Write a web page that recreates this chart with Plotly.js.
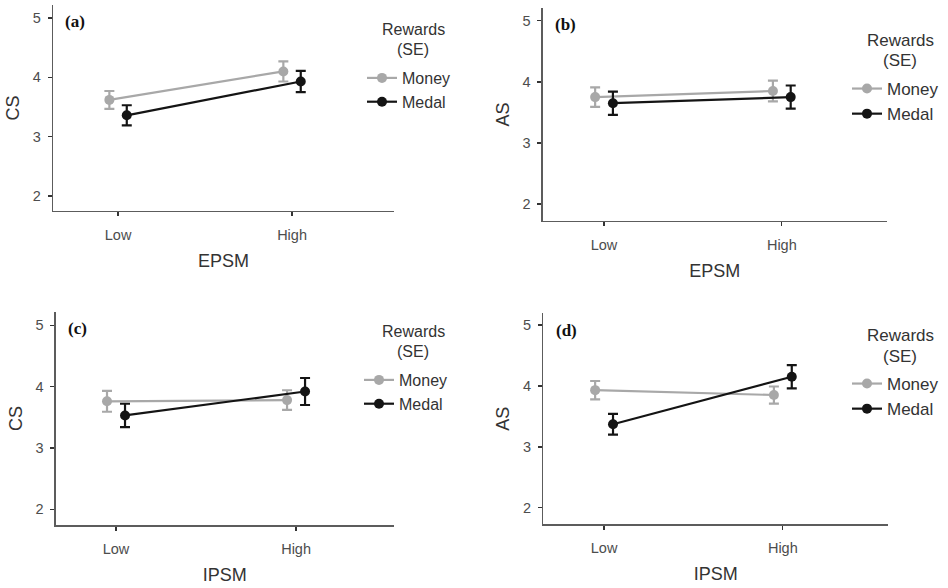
<!DOCTYPE html>
<html>
<head>
<meta charset="utf-8">
<script src="https://cdn.plot.ly/plotly-3.0.1.min.js"></script>
<style>html,body{margin:0;padding:0;background:#fff;}#chart{width:948px;height:588px;}</style>
</head>
<body>
<div id="chart"></div>
<script>
// ---- data ----
const categories = ['Low', 'High'];
const seriesNames = ['Money', 'Medal'];
const panelLabels = ['(a)', '(b)', '(c)', '(d)'];
const xTitles = ['EPSM', 'EPSM', 'IPSM', 'IPSM'];
const yTitles = ['CS', 'AS', 'CS', 'AS'];
const yTicks = [2, 3, 4, 5];

const moneyMeanA = [3.62, 4.10];
const moneySeA   = [0.15, 0.17];
const medalMeanA = [3.36, 3.93];
const medalSeA   = [0.17, 0.18];

const moneyMeanB = [3.75, 3.85];
const moneySeB   = [0.16, 0.17];
const medalMeanB = [3.65, 3.75];
const medalSeB   = [0.19, 0.19];

const moneyMeanC = [3.76, 3.78];
const moneySeC   = [0.17, 0.16];
const medalMeanC = [3.53, 3.92];
const medalSeC   = [0.19, 0.22];

const moneyMeanD = [3.93, 3.85];
const moneySeD   = [0.15, 0.14];
const medalMeanD = [3.37, 4.15];
const medalSeD   = [0.17, 0.19];

// ---- styling / layout ----
const colors = {Money: '#a8a8a8', Medal: '#141414'};
const dodge = 0.05;
const panels = [
  {money: moneyMeanA, moneySe: moneySeA, medal: medalMeanA, medalSe: medalSeA,
   xd: [53/948, 394/948], yd: [1-211/588, 1-5/588], xr: [0.626, 2.586], yr: [1.747, 5.22]},
  {money: moneyMeanB, moneySe: moneySeB, medal: medalMeanB, medalSe: medalSeB,
   xd: [542.7/948, 886.7/948], yd: [1-221/588, 1-8/588], xr: [0.655, 2.59], yr: [1.72, 5.21]},
  {money: moneyMeanC, moneySe: moneySeC, medal: medalMeanC, medalSe: medalSeC,
   xd: [55.7/948, 394/948], yd: [1-525.3/588, 1-311.7/588], xr: [0.665, 2.544], yr: [1.74, 5.22]},
  {money: moneyMeanD, moneySe: moneySeD, medal: medalMeanD, medalSe: medalSeD,
   xd: [543.3/948, 888.3/948], yd: [1-524.3/588, 1-313.3/588], xr: [0.66, 2.59], yr: [1.73, 5.19]}
];
const legendPos = [
  {x: 362, y: 61, fs: 16, tx: 413, t1: 30, t2: 49},
  {x: 847, y: 71, fs: 17, tx: 900, t1: 40.7, t2: 61},
  {x: 359, y: 363, fs: 16, tx: 413, t1: 331.7, t2: 351.7},
  {x: 847, y: 366, fs: 17, tx: 900, t1: 335.7, t2: 356.7}
];

const font = 'Liberation Sans, Arial, sans-serif';
const traces = [];
const layout = {
  width: 948, height: 588,
  margin: {l: 0, r: 0, t: 0, b: 0},
  paper_bgcolor: '#fff', plot_bgcolor: '#fff',
  font: {family: font, color: '#333'},
  annotations: [],
  showlegend: true
};

panels.forEach((p, i) => {
  const k = i === 0 ? '' : String(i + 1);
  const xa = 'x' + k, ya = 'y' + k;
  const legendId = 'legend' + k;
  const xBase = categories.map((c, j) => j + 1);
  [['Money', p.money, p.moneySe, -dodge], ['Medal', p.medal, p.medalSe, dodge]].forEach(s => {
    traces.push({
      type: 'scatter', mode: 'lines+markers', name: s[0],
      x: xBase.map(v => v + s[3]), y: s[1],
      xaxis: xa, yaxis: ya, legend: legendId,
      line: {color: colors[s[0]], width: 2.2},
      marker: {color: colors[s[0]], size: 10, symbol: 'circle'},
      error_y: {type: 'data', array: s[2], visible: true, color: colors[s[0]], thickness: 2.2, width: 5},
      hoverinfo: 'skip'
    });
  });
  layout['xaxis' + k] = {
    domain: p.xd, anchor: ya, range: p.xr,
    tickvals: xBase, ticktext: categories,
    showline: true, linecolor: '#5c5c5c', linewidth: 1.3,
    ticks: 'outside', ticklen: 4, tickwidth: 1.3, tickcolor: '#333',
    ticklabelstandoff: 6,
    showgrid: false, zeroline: false,
    tickfont: {family: font, size: 14.5, color: '#4d4d4d'},
    title: {text: xTitles[i], font: {family: font, size: 18, color: '#333'}, standoff: 12}
  };
  layout['yaxis' + k] = {
    domain: p.yd, anchor: xa, range: p.yr,
    tickvals: yTicks,
    showline: true, linecolor: '#5c5c5c', linewidth: 1.3,
    ticks: 'outside', ticklen: 4, tickwidth: 1.3, tickcolor: '#333',
    ticklabelstandoff: 4,
    showgrid: false, zeroline: false,
    tickfont: {family: font, size: 14.5, color: '#4d4d4d'},
    title: {text: yTitles[i], font: {family: font, size: 18, color: '#333'}, standoff: 8}
  };
  const lp = legendPos[i];
  layout[legendId] = {
    x: lp.x / 948, y: 1 - lp.y / 588, xanchor: 'left', yanchor: 'top',
    bgcolor: 'rgba(0,0,0,0)', borderwidth: 0,
    font: {family: font, size: lp.fs, color: '#333'},
    itemclick: false, itemdoubleclick: false, tracegroupgap: 0
  };
  layout.annotations.push({
    xref: 'paper', yref: 'paper', x: lp.tx / 948, y: 1 - lp.t1 / 588,
    xanchor: 'center', yanchor: 'middle', showarrow: false,
    text: 'Rewards', font: {family: font, size: lp.fs, color: '#333'}
  });
  layout.annotations.push({
    xref: 'paper', yref: 'paper', x: lp.tx / 948, y: 1 - lp.t2 / 588,
    xanchor: 'center', yanchor: 'middle', showarrow: false,
    text: '(SE)', font: {family: font, size: lp.fs, color: '#333'}
  });
  layout.annotations.push({
    xref: xa + ' domain', yref: ya + ' domain', x: 0.03, y: 0.975,
    xanchor: 'left', yanchor: 'top', showarrow: false,
    text: '<b>' + panelLabels[i] + '</b>',
    font: {family: 'Liberation Serif, Times New Roman, serif', size: 17, color: '#111'}
  });
});

Plotly.newPlot('chart', traces, layout, {staticPlot: true, displayModeBar: false});
</script>
</body>
</html>
